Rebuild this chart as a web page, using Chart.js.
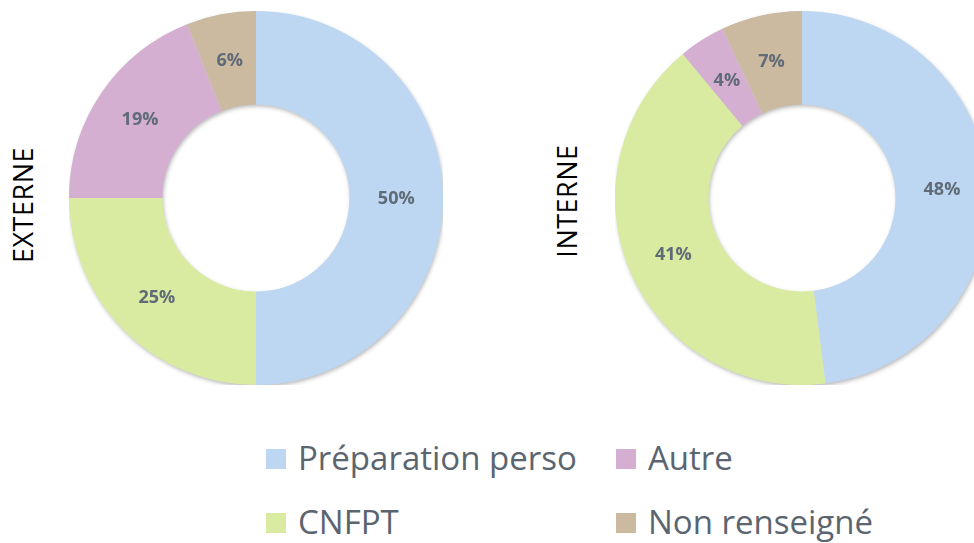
<!DOCTYPE html>
<html><head><meta charset="utf-8">
<script src="https://cdn.jsdelivr.net/npm/chart.js@4/dist/chart.umd.min.js"></script>
<style>
html,body{margin:0;padding:0;width:974px;height:543px;overflow:hidden;background:#fff;}
.box{position:absolute;width:374px;height:374px;top:11px;}
.vt{position:absolute;font-family:"Open Sans",sans-serif;font-size:27px;color:#000;transform:rotate(-90deg);transform-origin:center center;white-space:nowrap;width:200px;text-align:center;height:30px;line-height:30px;letter-spacing:0.5px;}
.lg{position:absolute;font-family:"Open Sans",sans-serif;font-size:33px;color:#5a6570;white-space:nowrap;line-height:40px;}
.lg span.sq{display:inline-block;width:20px;height:20px;margin-right:12px;vertical-align:middle;position:relative;top:-2px;}
</style></head>
<body>
<div class="box" style="left:69px"><canvas id="c1" width="374" height="374"></canvas></div>
<div class="box" style="left:615px"><canvas id="c2" width="374" height="374"></canvas></div>
<div id="titles"></div>
<div id="legend"></div>
<script>
const categories = ["Préparation perso", "CNFPT", "Autre", "Non renseigné"];
const colors = ["#BDD7F2", "#D8EBA1", "#D4AFD1", "#CBB9A0"];
const externeValues = [50, 25, 19, 6];
const interneValues = [48, 41, 4, 7];
const groupTitles = ["EXTERNE", "INTERNE"];

const labelPlugin = {
  id: 'pctLabels',
  beforeDatasetsDraw(chart) {
    const ctx = chart.ctx;
    const arc = chart.getDatasetMeta(0).data[0];
    ctx.save();
    ctx.shadowColor = 'rgba(0,0,0,0.3)';
    ctx.shadowBlur = 4;
    ctx.shadowOffsetX = 1;
    ctx.shadowOffsetY = 2;
    ctx.fillStyle = '#dddddd';
    ctx.beginPath();
    ctx.arc(arc.x, arc.y, arc.outerRadius - 0.5, 0, Math.PI * 2);
    ctx.arc(arc.x, arc.y, arc.innerRadius + 0.5, 0, Math.PI * 2, true);
    ctx.fill('evenodd');
    ctx.restore();
  },
  afterDatasetsDraw(chart) {
    const ctx = chart.ctx;
    ctx.save();
    const meta = chart.getDatasetMeta(0);
    const data = chart.data.datasets[0].data;
    ctx.font = 'bold 18px "Open Sans", sans-serif';
    ctx.fillStyle = '#5F6B77';
    ctx.textAlign = 'center';
    ctx.textBaseline = 'middle';
    meta.data.forEach((arc, i) => {
      const p = arc.tooltipPosition();
      ctx.fillText(data[i] + '%', p.x, p.y + 1);
    });
    ctx.restore();
  }
};

function makeChart(id, values) {
  return new Chart(document.getElementById(id), {
    type: 'doughnut',
    data: { labels: categories, datasets: [{ data: values, backgroundColor: colors, borderWidth: 0 }] },
    options: {
      responsive: false, animation: false, cutout: '50%',
      layout: { padding: 0 },
      plugins: { legend: { display: false }, tooltip: { enabled: false } }
    },
    plugins: [labelPlugin]
  });
}
makeChart('c1', externeValues);
makeChart('c2', interneValues);

// vertical group titles
const titlePos = [[23, 205], [567, 201]];
const tdiv = document.getElementById('titles');
groupTitles.forEach((t, i) => {
  const d = document.createElement('div');
  d.className = 'vt';
  d.style.left = (titlePos[i][0] - 100) + 'px';
  d.style.top = (titlePos[i][1] - 15) + 'px';
  d.textContent = t;
  tdiv.appendChild(d);
});

// legend from categories
const pos = [[266, 438], [266, 502], [616, 438], [616, 502]];
const lg = document.getElementById('legend');
categories.forEach((c, i) => {
  const d = document.createElement('div');
  d.className = 'lg';
  d.style.left = pos[i][0] + 'px';
  d.style.top = pos[i][1] + 'px';
  d.innerHTML = '<span class="sq" style="background:' + colors[i] + '"></span>' + c;
  lg.appendChild(d);
});
</script>
</body></html>
